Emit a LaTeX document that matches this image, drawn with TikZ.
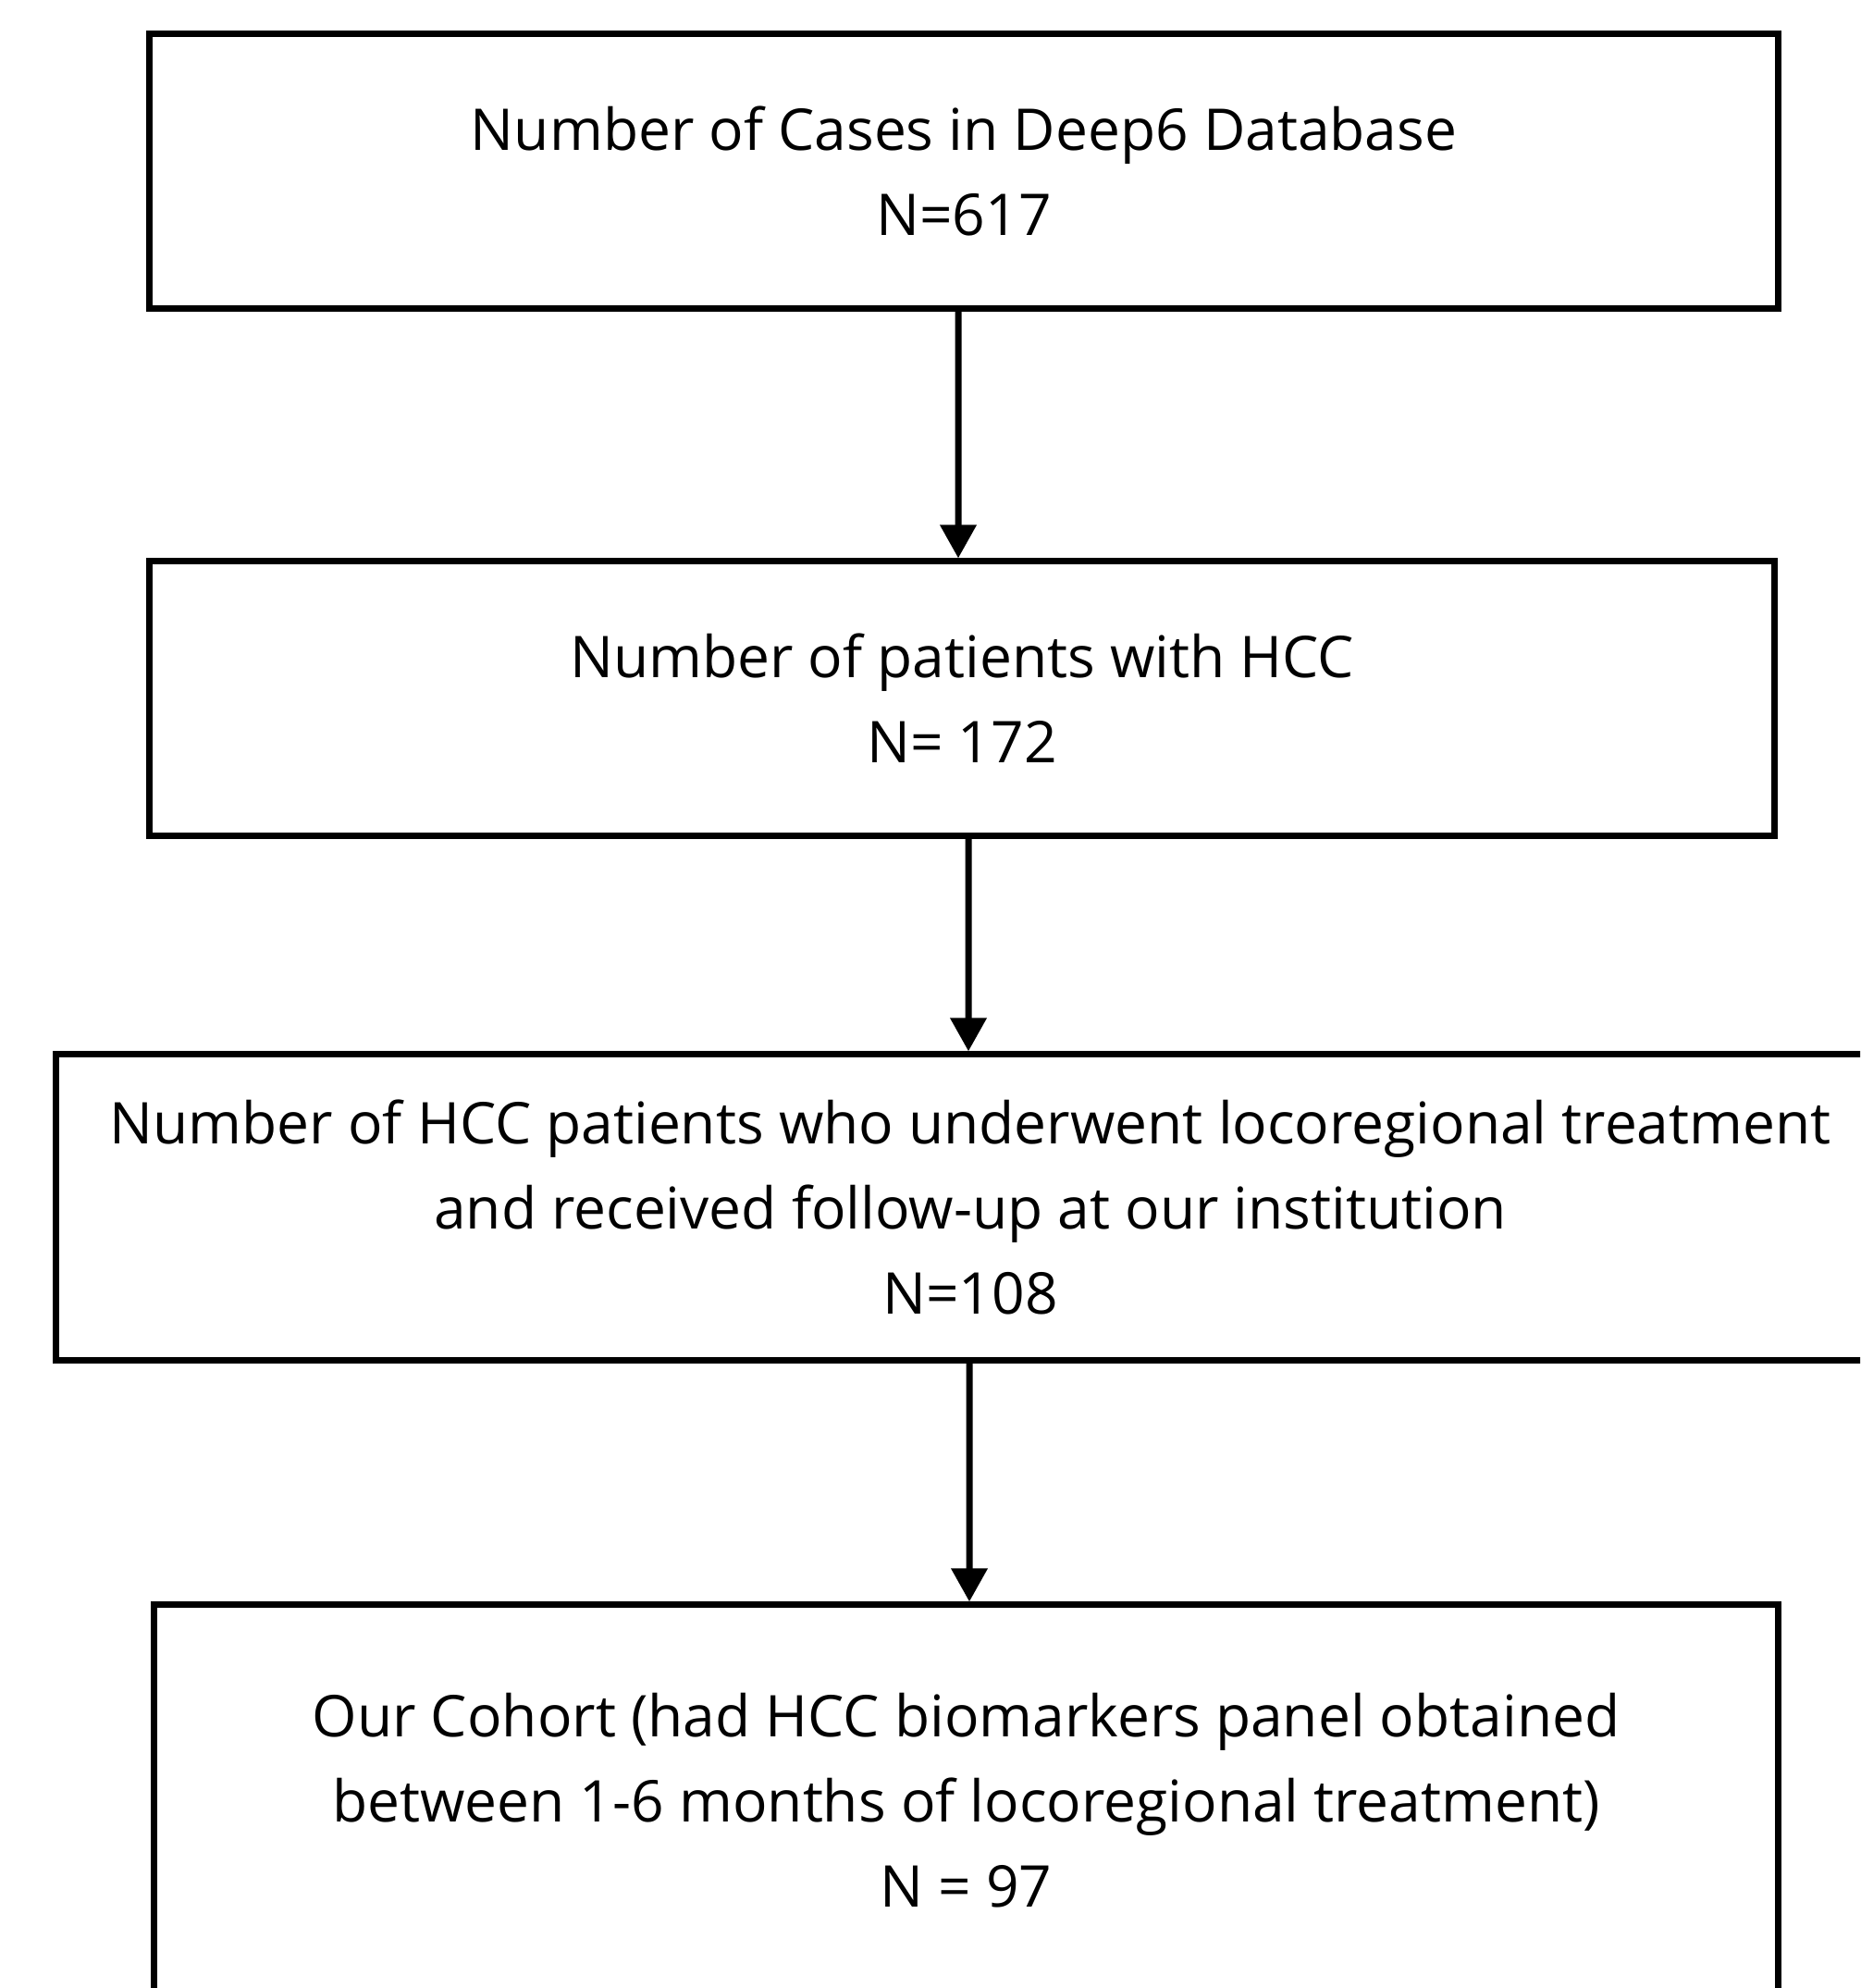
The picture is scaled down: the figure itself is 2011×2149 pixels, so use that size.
\documentclass[tikz,border=0pt]{standalone}
\usepackage{fontspec}
\setmainfont{Open Sans}
\usetikzlibrary{arrows.meta}

\begin{document}
\begin{tikzpicture}[x=0.01cm, y=-0.01cm,
    box/.style={rectangle, draw, line width=0.07cm, align=center, inner sep=0pt,
      font=\fontsize{17.7}{26.2}\selectfont},
    >={Triangle[width=0.38cm,length=0.36cm]}, line width=0.07cm]
  \useasboundingbox (0,0) rectangle (2011,2149);
  \clip (0,0) rectangle (2011,2149);

  \node[box, minimum width=17.60cm, minimum height=2.96cm] (1) at (1042,185)
    {Number of Cases in Deep6 Database\\N=617};
  \node[box, minimum width=17.56cm, minimum height=2.96cm] (2) at (1040,755)
    {Number of patients with HCC\\N= 172};
  \node[box, minimum width=19.76cm, minimum height=3.30cm] (3) at (1049,1305)
    {Number of HCC patients who underwent locoregional treatment\\and received follow-up at our institution\\N=108};
  \node[box, minimum width=17.55cm, minimum height=4.22cm] (4) at (1044.5,1946)
    {Our Cohort (had HCC biomarkers panel obtained\\between 1-6 months of locoregional treatment)\\N = 97};

  \draw[->] ([xshift=-0.06cm]1.south) -- ([xshift=-0.04cm]2.north);
  \draw[->] ([xshift=0.07cm]2.south) -- ([xshift=-0.02cm]3.north);
  \draw[->] ([xshift=-0.01cm]3.south) -- ([xshift=0.035cm]4.north);
\end{tikzpicture}
\end{document}
